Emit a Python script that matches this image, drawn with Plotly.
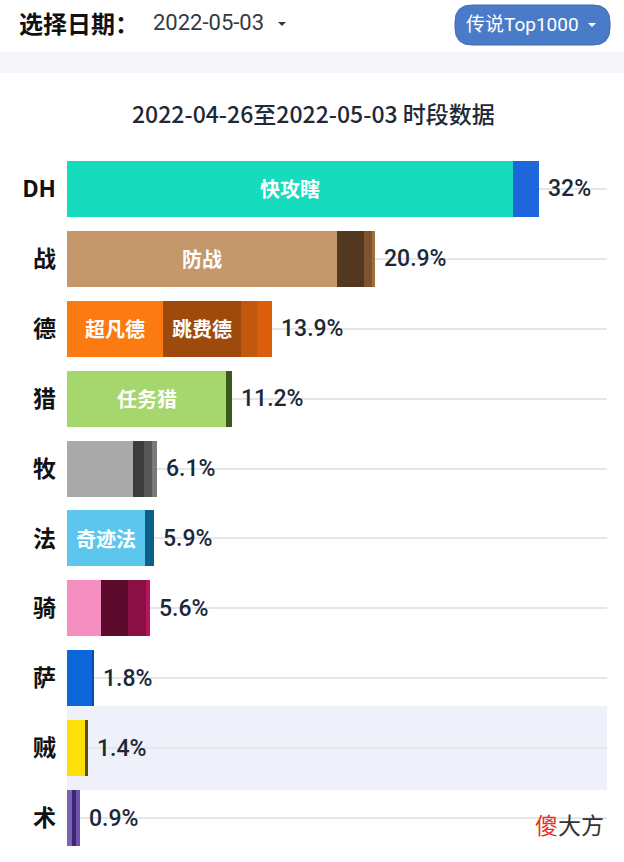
import plotly.graph_objects as go

classes = ["DH", "战", "德", "猎", "牧", "法", "骑", "萨", "贼", "术"]
totals = [32, 20.9, 13.9, 11.2, 6.1, 5.9, 5.6, 1.8, 1.4, 0.9]
total_labels = ["32%", "20.9%", "13.9%", "11.2%", "6.1%", "5.9%", "5.6%", "1.8%", "1.4%", "0.9%"]

# segment values (percent) per class
segments = [
    [30.2, 1.8],
    [18.3, 1.8, 0.6, 0.2],
    [6.5, 5.3, 1.05, 1.05],
    [10.8, 0.4],
    [4.5, 0.75, 0.5, 0.35],
    [5.3, 0.6],
    [2.3, 1.85, 1.2, 0.25],
    [1.7, 0.1],
    [1.25, 0.15],
    [0.33, 0.3, 0.27],
]
segment_names = [
    ["快攻瞎", ""],
    ["防战", "", "", ""],
    ["超凡德", "跳费德", "", ""],
    ["任务猎", ""],
    ["", "", "", ""],
    ["奇迹法", ""],
    ["", "", "", ""],
    ["", ""],
    ["", ""],
    ["", "", ""],
]
segment_colors = [
    ["#16dcbd", "#1e66dc"],
    ["#c4986b", "#523820", "#7e5430", "#a0703e"],
    ["#fb7b12", "#9e4a0c", "#c2580e", "#da5e0c"],
    ["#a6d66e", "#3a5a18"],
    ["#a9a9a9", "#3c3c3c", "#575757", "#7a7a7a"],
    ["#5cc6ee", "#0e5f88"],
    ["#f48fbf", "#5c0a2c", "#8a0f45", "#b8145e"],
    ["#0b67da", "#084ea8"],
    ["#fddf0a", "#5a5016"],
    ["#7d62b5", "#3e2677", "#6d52a8"],
]

title_text = "2022-04-26至2022-05-03 时段数据"
highlight_class = "贼"

W, H = 624, 862
ML, MR, MT, MB = 67, 17, 154, 9
PW, PH = W - ML - MR, H - MT - MB


def px(x):
    return (x - ML) / PW


def py(y):
    return (H - MB - y) / PH


FONT = "Roboto, 'Noto Sans CJK SC', sans-serif"
CJK = "'Noto Sans CJK SC', Roboto, sans-serif"

fig = go.Figure()
ypos = list(range(len(classes)))
nseg = max(len(s) for s in segments)
for k in range(nseg):
    xs = [s[k] if k < len(s) else 0 for s in segments]
    cs = [c[k] if k < len(c) else "rgba(0,0,0,0)" for c in segment_colors]
    fig.add_trace(go.Bar(
        y=ypos, x=xs, orientation="h",
        marker=dict(color=cs, line=dict(width=0)),
        hoverinfo="skip", showlegend=False,
    ))

annotations = []
# in-bar labels
for i, (segs, names) in enumerate(zip(segments, segment_names)):
    start = 0
    for v, n in zip(segs, names):
        if n:
            annotations.append(dict(
                x=start + v / 2, y=i, xref="x", yref="y", text=n,
                showarrow=False, font=dict(family=CJK, size=20, color="white", weight=600),
                xanchor="center", yanchor="middle"))
        start += v
# total labels
for i, (t, lab) in enumerate(zip(totals, total_labels)):
    annotations.append(dict(
        x=t, y=i, xref="x", yref="y", text=lab, showarrow=False,
        xanchor="left", yanchor="middle", xshift=7,
        font=dict(family=FONT, size=23, color="#1b2838", weight=500)))

# title
annotations.append(dict(x=px(313), y=py(113), xref="paper", yref="paper",
                        text=title_text, showarrow=False, xanchor="center", yanchor="middle",
                        font=dict(family=CJK, size=23, color="#1f2937", weight=500)))
# header
annotations.append(dict(x=px(17), y=py(23), xref="paper", yref="paper",
                        text="<b>选择日期：</b>", showarrow=False, xanchor="left", yanchor="middle",
                        font=dict(family=CJK, size=24, color="#111111")))
annotations.append(dict(x=px(151), y=py(23), xref="paper", yref="paper",
                        text="2022-05-03", showarrow=False, xanchor="left", yanchor="middle",
                        font=dict(family=FONT, size=22, color="#333a44")))
annotations.append(dict(x=px(522), y=py(24), xref="paper", yref="paper",
                        text="传说Top1000", showarrow=False, xanchor="center", yanchor="middle",
                        font=dict(family=FONT, size=19, color="white")))
# watermark
annotations.append(dict(x=px(606), y=py(824), xref="paper", yref="paper",
                        text='<span style="color:#e8341c">傻</span>大方', showarrow=False,
                        xanchor="right", yanchor="middle",
                        font=dict(family=CJK, size=23, color="#333333")))

shapes = []
# top gray band
shapes.append(dict(type="rect", xref="paper", yref="paper", x0=px(0), x1=px(W),
                   y0=py(73), y1=py(52), fillcolor="#f5f6fa", line=dict(width=0), layer="below"))
# highlight band
hi = classes.index(highlight_class)
shapes.append(dict(type="rect", xref="paper", yref="y", x0=0, x1=1,
                   y0=hi - 0.6, y1=hi + 0.6, fillcolor="#eef1f9", line=dict(width=0), layer="below"))


# rounded button path
def rounded(x0, y0, x1, y1, r):
    pts = [
        f"M{px(x0 + r)},{py(y0)}", f"L{px(x1 - r)},{py(y0)}",
        f"Q{px(x1)},{py(y0)} {px(x1)},{py(y0 + r)}", f"L{px(x1)},{py(y1 - r)}",
        f"Q{px(x1)},{py(y1)} {px(x1 - r)},{py(y1)}", f"L{px(x0 + r)},{py(y1)}",
        f"Q{px(x0)},{py(y1)} {px(x0)},{py(y1 - r)}", f"L{px(x0)},{py(y0 + r)}",
        f"Q{px(x0)},{py(y0)} {px(x0 + r)},{py(y0)}", "Z",
    ]
    return " ".join(pts)


shapes.append(dict(type="path", xref="paper", yref="paper", path=rounded(455, 5, 610, 45, 17),
                   fillcolor="#4a7bc8", line=dict(color="#3f6db5", width=1)))


# dropdown carets
def caret(cx, cy, w, h, color):
    return dict(type="path", xref="paper", yref="paper",
                path=f"M{px(cx - w / 2)},{py(cy - h / 2)} L{px(cx + w / 2)},{py(cy - h / 2)} L{px(cx)},{py(cy + h / 2)} Z",
                fillcolor=color, line=dict(width=0))


shapes.append(caret(282, 24, 8, 4, "#333a44"))
shapes.append(caret(592, 25, 8, 4, "white"))

fig.update_layout(
    width=W, height=H,
    margin=dict(l=ML, r=MR, t=MT, b=MB, pad=0),
    paper_bgcolor="white", plot_bgcolor="white",
    barmode="stack", bargap=0.2,
    xaxis=dict(range=[0, 36.6], showgrid=False, zeroline=False, showticklabels=False,
               showline=False, fixedrange=True),
    yaxis=dict(range=[len(classes) - 0.5, -0.5], tickmode="array", tickvals=ypos,
               ticktext=[f"<b>{c}</b>" for c in classes], showgrid=True,
               gridcolor="#e4e6ea", gridwidth=1.5, zeroline=False, showline=False,
               ticks="", ticklabelstandoff=10,
               tickfont=dict(family=CJK, size=23, color="#111111")),
    annotations=annotations, shapes=shapes,
    font=dict(family=FONT),
)

fig.write_html("out.html")
